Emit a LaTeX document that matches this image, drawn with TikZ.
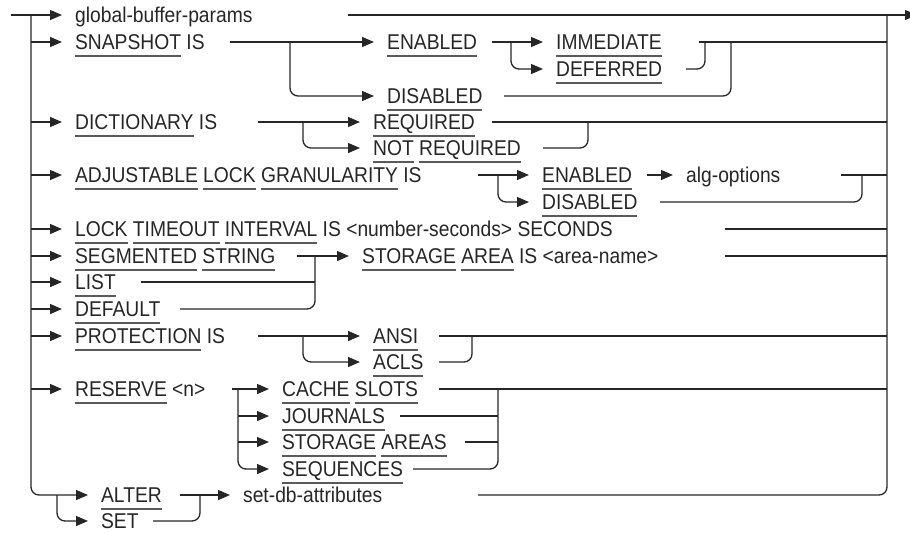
\documentclass[tikz,border=0pt]{standalone}
\usepackage{fontspec}
\setmainfont{Liberation Sans}[FakeStretch=0.9]
\usetikzlibrary{arrows.meta}
\definecolor{ln}{HTML}{262626}
\definecolor{ulc}{HTML}{5A5A5A}
\newsavebox\kwbox
\newcommand\kw[1]{\sbox\kwbox{#1}\rlap{\textcolor{ulc}{\rule[-7pt]{\wd\kwbox}{1.5pt}}}\usebox\kwbox}
\tikzset{
  txt/.style={anchor=west, inner xsep=12.5pt, inner ysep=0pt, text height=15.3pt, text depth=0pt, font=\fontsize{21.4}{24}\selectfont},
  arr/.style={-{Triangle[length=12pt,width=10pt]}},
  rc/.style={rounded corners=8pt}
}
\begin{document}
\begin{tikzpicture}[x=1pt,y=-1pt,line width=1.3pt,color=ln]
\useasboundingbox (0,0) rectangle (910,533);
% text nodes
\node[txt] (gbp) at (62,15) {global-buffer-params};
\node[txt] (snap) at (62,42) {\kw{SNAPSHOT} IS};
\node[txt] (sen) at (374,42) {\kw{ENABLED}};
\node[txt] (imm) at (543,42) {\kw{IMMEDIATE}};
\node[txt] (def) at (543,69) {\kw{DEFERRED}};
\node[txt] (sdis) at (374,96) {\kw{DISABLED}};
\node[txt] (dict) at (62,122) {\kw{DICTIONARY} IS};
\node[txt] (req) at (360,122) {\kw{REQUIRED}};
\node[txt] (nreq) at (360,148) {\kw{NOT} \kw{REQUIRED}};
\node[txt] (adj) at (62,175) {\kw{ADJUSTABLE} \kw{LOCK} \kw{GRANULARITY} IS};
\node[txt] (aen) at (529,175) {\kw{ENABLED}};
\node[txt] (alg) at (673,175) {alg-options};
\node[txt] (adis) at (529,202) {\kw{DISABLED}};
\node[txt] (lti) at (62,229) {\kw{LOCK} \kw{TIMEOUT} \kw{INTERVAL} IS <number-seconds> SECONDS};
\node[txt] (seg) at (62,256) {\kw{SEGMENTED} \kw{STRING}};
\node[txt] (sto) at (349,256) {\kw{STORAGE} \kw{AREA} IS <area-name>};
\node[txt] (list) at (62,282) {\kw{LIST}};
\node[txt] (dflt) at (62,309) {\kw{DEFAULT}};
\node[txt] (prot) at (62,336) {\kw{PROTECTION} IS};
\node[txt] (ansi) at (360,336) {\kw{ANSI}};
\node[txt] (acls) at (360,362) {\kw{ACLS}};
\node[txt] (res) at (62,389) {\kw{RESERVE} <n>};
\node[txt] (cache) at (269,389) {\kw{CACHE} \kw{SLOTS}};
\node[txt] (jour) at (269,416) {\kw{JOURNALS}};
\node[txt] (stoa) at (269,442) {\kw{STORAGE} \kw{AREAS}};
\node[txt] (seq) at (269,469) {\kw{SEQUENCES}};
\node[txt] (alter) at (88,495) {\kw{ALTER}};
\node[txt] (set) at (88,521) {\kw{SET}};
\node[txt] (sdb) at (230,495) {set-db-attributes};
% coordinates
\coordinate (in) at (11,15);
\coordinate (out) at (917,15);
% main trunk
\draw[arr] (in) -- (gbp.west);
\draw[arr,rc] (31,15) |- (alter.west);
\foreach \n in {snap,dict,adj,lti,seg,list,dflt,prot,res}
  \draw[arr] (31,0 |- \n.west) -- (\n.west);
\draw[arr,rc] (57,495) |- (set.west);
% exit
\draw[arr] (348,15) -- (out);
\draw[rc] (478,495) -| (887,15);
% snapshot
\draw[arr] (230,42) -- (sen.west);
\draw[arr,rc] (290,42) |- (sdis.west);
\draw[arr] (492,42) -- (imm.west);
\draw[arr,rc] (511,42) |- (def.west);
\draw (699,42) -- (887,42);
\draw[rc] (686,69) -| (705,42);
\draw[rc] (504,96) -| (731,42);
% dictionary
\draw[arr] (258,122) -- (req.west);
\draw[arr,rc] (303,122) |- (nreq.west);
\draw (492,122) -- (887,122);
\draw[rc] (543,148) -| (588,122);
% adjustable
\draw[arr] (478,175) -- (aen.west);
\draw[arr,rc] (498,175) |- (adis.west);
\draw[arr] (647,175) -- (alg.west);
\draw (841,175) -- (887,175);
\draw[rc] (660,202) -| (862,175);
% lock timeout
\draw (725,229) -- (887,229);
% segmented
\draw[arr] (297,256) -- (sto.west);
\draw (141,282) -- (315,282);
\draw[rc] (180,309) -| (315,256);
\draw (725,256) -- (887,256);
% protection
\draw[arr] (258,336) -- (ansi.west);
\draw[arr,rc] (303,336) |- (acls.west);
\draw (439,336) -- (887,336);
\draw[rc] (439,362) -| (472,336);
% reserve
\draw[arr] (232,389) -- (cache.west);
\draw[arr,rc] (238,389) |- (seq.west);
\draw[arr] (238,416) -- (jour.west);
\draw[arr] (238,442) -- (stoa.west);
\draw (439,389) -- (887,389);
\draw (400,416) -- (498,416);
\draw (465,442) -- (498,442);
\draw[rc] (413,469) -| (498,389);
% alter / set
\draw[arr] (180,495) -- (sdb.west);
\draw[rc] (153,521) -| (200,495);
\end{tikzpicture}
\end{document}
